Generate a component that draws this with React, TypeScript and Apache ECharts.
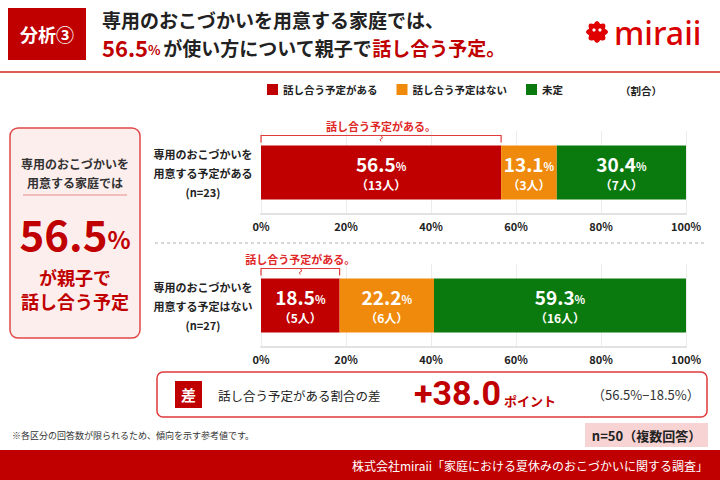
import React, { useEffect, useRef } from "react";
import * as echarts from "echarts";

const F = '"Noto Sans CJK JP", "Noto Sans", sans-serif';

const segmentNames = ["話し合う予定がある", "話し合う予定はない", "未定"];
const groupTitles = ["専用のおこづかいを\n用意する予定がある", "専用のおこづかいを\n用意する予定はない"];
const sampleSizes = [23, 27];
const planYes = [56.5, 18.5];
const planNo = [13.1, 22.2];
const undecided = [30.4, 59.3];
const countYes = [13, 5];
const countNo = [3, 6];
const countUndecided = [7, 16];
const segmentColors = ["#c00000", "#ef8a0c", "#0b7a0e"];
const totalN = 50;

const RED = "#c00000";
const DARK = "#222";

echarts.graphic.registerShape(
  "logo",
  echarts.graphic.extendPath(
    "M 8.3 -3.4 Q 15 0 8.3 3.4 Q 10.6 10.6 3.4 8.3 Q 0 15 -3.4 8.3 Q -10.6 10.6 -8.3 3.4 Q -15 0 -8.3 -3.4 Q -10.6 -10.6 -3.4 -8.3 Q 0 -15 3.4 -8.3 Q 10.6 -10.6 8.3 -3.4 Z",
    {}
  )
);

export default function App() {
  const ref = useRef<HTMLDivElement>(null);
  useEffect(() => {
    if (!ref.current) return;
    const chart = echarts.init(ref.current, null, { renderer: "svg" });
    const values = [planYes, planNo, undecided];
    const counts = [countYes, countNo, countUndecided];
    const series: any[] = [];
    [0, 1].forEach((g) => {
      [0, 1, 2].forEach((s) => {
        series.push({
          type: "bar",
          name: segmentNames[s],
          xAxisIndex: g,
          yAxisIndex: g,
          stack: "g" + g,
          barWidth: 54,
          data: [values[s][g]],
          itemStyle: { color: segmentColors[s] },
          label: {
            show: true,
            position: "inside",
            formatter: () => `{v|${values[s][g].toFixed(1)}}{p|%}\n{n|（${counts[s][g]}人）}`,
            rich: {
              v: { fontSize: 19, fontWeight: "bold", color: "#fff", fontFamily: F, lineHeight: 24 },
              p: { fontSize: 11, fontWeight: "bold", color: "#fff", fontFamily: F, lineHeight: 24, padding: [4, 0, 0, 0] },
              n: { fontSize: 12, fontWeight: "bold", color: "#fff", fontFamily: F, lineHeight: 18 },
            },
          },
        });
      });
    });

    const option: any = {
      animation: false,
      backgroundColor: "#fff",
      textStyle: { fontFamily: F },
      legend: {
        data: segmentNames,
        left: 262,
        top: 79,
        icon: "rect",
        itemWidth: 11,
        itemHeight: 11,
        itemGap: 19,
        selectedMode: false,
        textStyle: { fontSize: 10.5, fontWeight: "bold", color: DARK, fontFamily: F },
      },
      grid: [
        { left: 261, width: 425, top: 131, height: 83 },
        { left: 261, width: 425, top: 264, height: 83 },
      ],
      xAxis: [0, 1].map((i) => ({
        type: "value",
        gridIndex: i,
        min: 0,
        max: 100,
        interval: 20,
        axisLine: { show: true, lineStyle: { color: "#e2e2e2", width: 2 } },
        axisTick: { show: false },
        splitLine: { show: true, lineStyle: { color: "#ececec", width: 1 } },
        axisLabel: { formatter: "{value}%", fontSize: 11, fontWeight: "bold", color: DARK, margin: 6, fontFamily: F },
      })),
      yAxis: [0, 1].map((i) => ({
        type: "category",
        gridIndex: i,
        data: [`${groupTitles[i]}\n(n=${sampleSizes[i]})`],
        axisLine: { show: false },
        axisTick: { show: false },
        axisLabel: { margin: 58, align: "center", fontSize: 11, fontWeight: "bold", color: DARK, lineHeight: 19, fontFamily: F },
      })),
      series,
    };
    chart.setOption(option);

    const txt = (x: number, y: number, text: string, st: any) => ({
      type: "text",
      x,
      y,
      silent: true,
      style: { text, fontFamily: F, textVerticalAlign: "middle", ...st },
    });

    const headline = planYes[0].toFixed(1);
    const diff = (planYes[0] - planYes[1]).toFixed(1);

    const g: any[] = [
      // header
      { type: "rect", shape: { x: 8, y: 8, width: 78, height: 52 }, style: { fill: RED } },
      txt(47, 34, "分析③", { fill: "#fff", fontSize: 18, fontWeight: "bold", textAlign: "center" }),
      txt(102, 19, "専用のおこづかいを用意する家庭では、", { fill: DARK, fontSize: 19, fontWeight: "bold", lineHeight: 20 }),
      {
        type: "text",
        x: 102,
        y: 47,
        style: {
          text: `{a|${headline}}{b|%} {c|が使い方について親子で}{d|話し合う予定。}`,
          textVerticalAlign: "middle",
          fontFamily: F,
          rich: {
            a: { fontSize: 22, fontWeight: "bold", fill: RED, fontFamily: F, lineHeight: 23 },
            b: { fontSize: 13, fontWeight: "bold", fill: RED, fontFamily: F, lineHeight: 23, padding: [5, 0, 0, 0] },
            c: { fontSize: 19, fontWeight: "bold", fill: DARK, fontFamily: F, lineHeight: 23 },
            d: { fontSize: 19, fontWeight: "bold", fill: RED, fontFamily: F, lineHeight: 23 },
          },
        },
      },
      { type: "line", shape: { x1: 0, y1: 72, x2: 720, y2: 72 }, style: { stroke: "#e05a5a", lineWidth: 2 } },
      // logo
      { type: "logo", x: 597, y: 32, scaleX: 0.95, scaleY: 0.95, style: { fill: "#e00000" } },
      { type: "circle", shape: { cx: 594, cy: 30, r: 1.6 }, style: { fill: "#fff" } },
      { type: "circle", shape: { cx: 600, cy: 30, r: 1.6 }, style: { fill: "#fff" } },
      txt(614, 32, "miraii", { fill: "#d80000", fontSize: 32, fontWeight: 500, fontFamily: '"Noto Sans", sans-serif' }),
      // legend note
      txt(620, 90, "（割合）", { fill: DARK, fontSize: 10.5, fontWeight: "bold" }),
      // left panel
      { type: "rect", shape: { x: 10, y: 128, width: 130, height: 210, r: 8 }, style: { fill: "#fdeeee", stroke: "#e04848", lineWidth: 1.5 } },
      txt(75, 163, "専用のおこづかいを", { fill: "#333", fontSize: 12, fontWeight: "bold", textAlign: "center", lineHeight: 14 }),
      txt(75, 182, "用意する家庭では", { fill: "#333", fontSize: 12, fontWeight: "bold", textAlign: "center", lineHeight: 14 }),
      { type: "line", shape: { x1: 23, y1: 195, x2: 127, y2: 195 }, style: { stroke: "#e58a8a", lineWidth: 1 } },
      {
        type: "text",
        x: 75,
        y: 232,
        style: {
          text: `{a|${headline}}{b|%}`,
          textAlign: "center",
          textVerticalAlign: "middle",
          fontFamily: F,
          rich: {
            a: { fontSize: 42, fontWeight: "bold", fill: RED, fontFamily: F, lineHeight: 44 },
            b: { fontSize: 24, fontWeight: "bold", fill: RED, fontFamily: F, lineHeight: 44, padding: [12, 0, 0, 0] },
          },
        },
      },
      txt(75, 276.5, "が親子で", { fill: RED, fontSize: 18, fontWeight: "bold", textAlign: "center", lineHeight: 20 }),
      txt(75, 300.5, "話し合う予定", { fill: RED, fontSize: 18, fontWeight: "bold", textAlign: "center", lineHeight: 20 }),
      // separator
      { type: "line", shape: { x1: 155, y1: 243, x2: 705, y2: 243 }, style: { stroke: "#b0b0b0", lineWidth: 1, lineDash: [3, 3] } },
      // diff box
      { type: "rect", shape: { x: 157, y: 372, width: 550, height: 45, r: 6 }, style: { fill: "#fff", stroke: "#e03a3a", lineWidth: 1.5 } },
      { type: "rect", shape: { x: 175, y: 381, width: 27, height: 27 }, style: { fill: RED } },
      txt(188.5, 394.5, "差", { fill: "#fff", fontSize: 15, fontWeight: "bold", textAlign: "center" }),
      txt(218, 395, "話し合う予定がある割合の差", { fill: DARK, fontSize: 12.5 }),
      txt(501, 393, `+${diff}`, { fill: RED, fontSize: 34, fontWeight: "bold", textAlign: "right", fontFamily: '"Roboto", "Noto Sans", sans-serif' }),
      txt(504, 400, "ポイント", { fill: RED, fontSize: 13, fontWeight: "bold" }),
      txt(592, 394, `（${planYes[0].toFixed(1)}%−${planYes[1].toFixed(1)}%）`, { fill: "#333", fontSize: 13 }),
      // notes
      txt(12, 435, "※各区分の回答数が限られるため、傾向を示す参考値です。", { fill: "#333", fontSize: 9 }),
      { type: "rect", shape: { x: 585, y: 423, width: 123, height: 24 }, style: { fill: "#f7d3d3" } },
      txt(646.5, 435, `n=${totalN}（複数回答）`, { fill: DARK, fontSize: 13, fontWeight: "bold", textAlign: "center" }),
      // footer
      { type: "rect", shape: { x: 0, y: 450, width: 720, height: 30 }, style: { fill: RED } },
      txt(708, 465, "株式会社miraii「家庭における夏休みのおこづかいに関する調査」", { fill: "#fff", fontSize: 12, textAlign: "right" }),
    ];

    [0, 1].forEach((gi) => {
      const x0 = chart.convertToPixel({ xAxisIndex: gi } as any, 0) as number;
      const x1 = chart.convertToPixel({ xAxisIndex: gi } as any, planYes[gi]) as number;
      const yc = chart.convertToPixel({ yAxisIndex: gi } as any, 0) as number;
      const by = yc - 27 - 10;
      const cx = (x0 + x1) / 2;
      g.push({
        type: "polyline",
        shape: { points: [[x0, by + 7], [x0, by], [x1, by], [x1, by + 7]] },
        style: { stroke: "#e03a3a", lineWidth: 1.2, fill: "none" },
      });
      g.push({
        type: "polyline",
        shape: { points: [[cx, by], [cx + 1.5, by + 2.5], [cx - 1, by + 4], [cx, by + 6]] },
        style: { stroke: "#e03a3a", lineWidth: 1, fill: "none" },
      });
      g.push(txt(cx, by - 10, "話し合う予定がある。", { fill: "#e02828", fontSize: 11, fontWeight: "bold", textAlign: "center" }));
    });

    chart.setOption({ graphic: g });
    return () => chart.dispose();
  }, []);
  return <div ref={ref} style={{ position: "fixed", left: 0, top: 0, width: 720, height: 480, background: "#fff" }} />;
}
